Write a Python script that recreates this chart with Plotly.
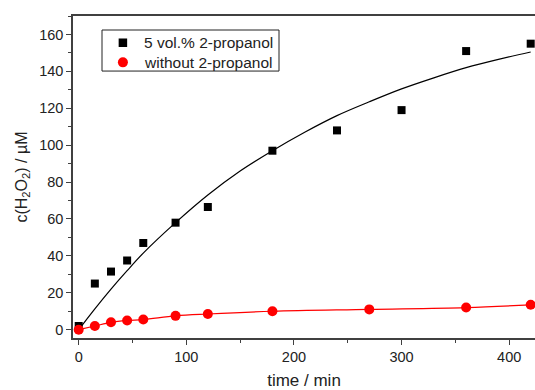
import plotly.graph_objects as go

# Data
t_iso = [0, 15, 30, 45, 60, 90, 120, 180, 240, 300, 360, 420]
c_iso = [2, 25, 31.5, 37.5, 47, 58, 66.5, 97, 108, 119, 151, 155]

t_fit = [0, 15, 30, 45, 60, 90, 120, 150, 180, 210, 240, 270, 300, 330, 360, 390, 420]
c_fit = [0, 11.3, 22, 32, 41.5, 58, 73, 86, 97, 107, 116, 123.5, 130.5, 136.5, 142, 146.5, 150.5]

t_wo = [0, 15, 30, 45, 60, 90, 120, 180, 270, 360, 420]
c_wo = [0, 2, 4, 5, 5.5, 7.5, 8.5, 10, 11, 12, 13.5]

series_names = ["5 vol.% 2-propanol", "without 2-propanol"]

font = "Arial, Liberation Sans, sans-serif"

fig = go.Figure()
fig.add_trace(go.Scatter(x=t_fit, y=c_fit, mode="lines", line=dict(color="black", width=1.2, shape="spline"),
                         showlegend=False, hoverinfo="skip"))
fig.add_trace(go.Scatter(x=t_wo, y=c_wo, mode="lines", line=dict(color="red", width=1.2, shape="spline"),
                         showlegend=False, hoverinfo="skip"))
fig.add_trace(go.Scatter(x=t_iso, y=c_iso, mode="markers", name=series_names[0], showlegend=False,
                         marker=dict(symbol="square", size=8, color="black")))
fig.add_trace(go.Scatter(x=t_wo, y=c_wo, mode="markers", name=series_names[1], showlegend=False,
                         marker=dict(symbol="circle", size=10, color="red")))

# Hand-made legend (box, symbols on an overlay unit axis, texts)
leg_x0, leg_x1, leg_y0, leg_y1 = 0.0628, 0.4459, 0.829, 0.9565
sym_x = 0.108
row_y = [0.917, 0.856]
fig.add_shape(type="rect", xref="paper", yref="paper", x0=leg_x0, x1=leg_x1, y0=leg_y0, y1=leg_y1,
              line=dict(color="#222", width=1), fillcolor="white", layer="below")
fig.add_trace(go.Scatter(x=[sym_x, sym_x], y=row_y, xaxis="x2", yaxis="y2", mode="markers",
                         marker=dict(symbol=["square", "circle"], size=[8.5, 10], color=["black", "red"],
                                     opacity=1, line=dict(width=0)),
                         showlegend=False, hoverinfo="skip"))
for name, yy in zip(series_names, row_y):
    fig.add_annotation(x=0.149, y=yy, xref="paper", yref="paper", text=name, showarrow=False,
                       xanchor="left", yanchor="middle", font=dict(family=font, size=15.5, color="#222"))

axis_common = dict(showgrid=False, zeroline=False, showline=True, linecolor="#404040", linewidth=1.5,
                   ticks="outside", ticklen=5, tickwidth=1.2, tickcolor="#404040",
                   tickfont=dict(family=font, size=14.5, color="#222"))

fig.update_layout(
    width=535, height=390,
    margin=dict(l=73, r=0, t=16, b=52),
    plot_bgcolor="white", paper_bgcolor="white",
    font=dict(family=font, size=14, color="#222"),
    showlegend=False,
    xaxis=dict(range=[-5.3, 424], dtick=100, tick0=0, mirror=True,
               minor=dict(dtick=50, ticks="outside", ticklen=3, tickcolor="#404040"),
               title=dict(text="time / min", font=dict(family=font, size=17), standoff=12),
               **axis_common),
    yaxis=dict(range=[-4.5, 170], dtick=20, tick0=0,
               minor=dict(dtick=10, ticks="outside", ticklen=3, tickcolor="#404040"),
               title=dict(text="c(H<sub>2</sub>O<sub>2</sub>) / µM", font=dict(family=font, size=16), standoff=8),
               **axis_common),
    xaxis2=dict(overlaying="x", anchor="y", range=[0, 1], visible=False),
    yaxis2=dict(overlaying="y", anchor="x", range=[0, 1], visible=False),
)

fig.write_html("out.html")
